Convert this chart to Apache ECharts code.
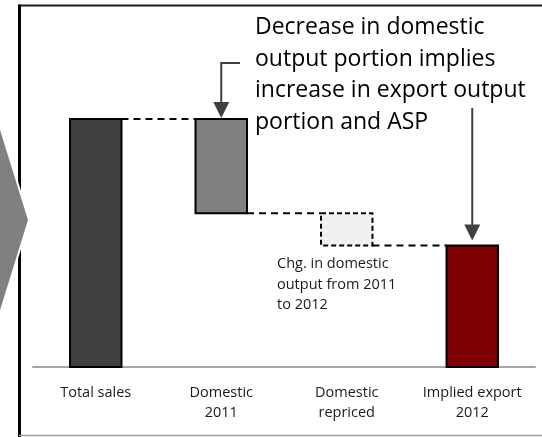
<!DOCTYPE html>
<html>
<head>
<meta charset="utf-8">
<script src="https://cdn.jsdelivr.net/npm/echarts@6/dist/echarts.min.js"></script>
<style>
  html, body { margin: 0; padding: 0; background: #fff; }
  #chart { width: 542px; height: 437px; }
</style>
</head>
<body>
<div id="chart"></div>
<script>
// Waterfall steps: Total sales minus domestic output, adjusted for repricing, leaves implied export
const categories = ['Total sales', 'Domestic\n2011', 'Domestic\nrepriced', 'Implied export\n2012'];
const stepValues = [100, -38, -13, 49];      // total, decreases, resulting total
const isTotal = [true, false, false, true];
const fillColors = ['#404040', '#808080', '#f0f0f0', '#7f0000'];
const dashedBorder = [false, false, true, false];

const headline = 'Decrease in domestic\noutput portion implies\nincrease in export output\nportion and ASP';
const note = 'Chg. in domestic\noutput from 2011\nto 2012';

// Build [index, low, high] ranges for each step
const ranges = [];
let level = 0;
stepValues.forEach((v, i) => {
  if (isTotal[i]) {
    ranges.push([i, 0, v]);
    level = v;
  } else {
    const next = level + v;
    ranges.push([i, Math.min(level, next), Math.max(level, next)]);
    level = next;
  }
});
// Connector levels: end level of each step, linking it to the next
const connectors = [];
level = 0;
stepValues.forEach((v, i) => {
  level = isTotal[i] ? v : level + v;
  if (i < stepValues.length - 1) connectors.push([i, level]);
});

const FONT = '"Open Sans", "Noto Sans", sans-serif';
const chart = echarts.init(document.getElementById('chart'));

const BAR_RATIO = 0.41;

chart.setOption({
  animation: false,
  grid: { left: 33, right: 7, top: 119, bottom: 70 },
  xAxis: {
    type: 'category',
    data: categories,
    axisLine: { lineStyle: { color: '#a6a6a6', width: 2 } },
    axisTick: { show: false },
    axisLabel: {
      color: '#1a1a1a', fontFamily: FONT, fontSize: 14.5,
      lineHeight: 20, margin: 16, interval: 0
    }
  },
  yAxis: { type: 'value', min: 0, max: 100, show: false },
  series: [
    {
      type: 'custom',
      data: ranges,
      encode: { x: 0, y: [1, 2] },
      z: 3,
      renderItem: (params, api) => {
        const i = api.value(0);
        const lo = api.coord([i, api.value(1)]);
        const hi = api.coord([i, api.value(2)]);
        const w = api.size([1, 0])[0] * BAR_RATIO;
        return {
          type: 'rect',
          shape: { x: lo[0] - w / 2, y: hi[1], width: w, height: lo[1] - hi[1] },
          style: {
            fill: fillColors[i],
            stroke: '#000',
            lineWidth: 2,
            lineDash: dashedBorder[i] ? [5, 3] : null
          }
        };
      }
    },
    {
      type: 'custom',
      data: connectors,
      encode: { x: 0, y: 1 },
      z: 2,
      renderItem: (params, api) => {
        const i = api.value(0);
        const a = api.coord([i, api.value(1)]);
        const b = api.coord([i + 1, api.value(1)]);
        const w = api.size([1, 0])[0] * BAR_RATIO;
        return {
          type: 'line',
          shape: { x1: a[0] + w / 2, y1: a[1], x2: b[0] - w / 2, y2: b[1] },
          style: { stroke: '#000', lineWidth: 2, lineDash: [7, 5] }
        };
      }
    }
  ]
});

// Annotation arrows point at the top of the domestic 2011 bar and the implied export bar
const tip1 = chart.convertToPixel({ xAxisIndex: 0, yAxisIndex: 0 }, [1, ranges[1][2]]);
const tip2 = chart.convertToPixel({ xAxisIndex: 0, yAxisIndex: 0 }, [3, ranges[3][2]]);
const ARROW = '#404040';

function arrowHead(x, yTip) {
  return {
    type: 'polygon',
    shape: { points: [[x - 8, yTip - 16], [x + 8, yTip - 16], [x, yTip]] },
    style: { fill: ARROW },
    z: 10
  };
}

chart.setOption({
  graphic: [
    // frame
    { type: 'line', shape: { x1: 19, y1: 5.5, x2: 542, y2: 5.5 }, style: { stroke: '#1a1a1a', lineWidth: 2 }, z: 1 },
    { type: 'line', shape: { x1: 19.5, y1: 4.5, x2: 19.5, y2: 437 }, style: { stroke: '#000', lineWidth: 3 }, z: 1 },
    { type: 'line', shape: { x1: 19, y1: 435.5, x2: 542, y2: 435.5 }, style: { stroke: '#a0a0a0', lineWidth: 1.5 }, z: 1 },
    // chevron from the previous panel
    { type: 'polygon', shape: { points: [[-2, 120], [29, 220], [-2, 320]] },
      style: { fill: '#808080', stroke: '#fff', lineWidth: 2 }, z: 5 },
    // arrow to domestic 2011
    { type: 'polyline', shape: { points: [[240, 63], [tip1[0], 63], [tip1[0], tip1[1] - 14]] },
      style: { stroke: ARROW, lineWidth: 2, fill: null }, z: 10 },
    arrowHead(tip1[0], tip1[1] - 1),
    // arrow to implied export
    { type: 'line', shape: { x1: tip2[0], y1: 108, x2: tip2[0], y2: tip2[1] - 18 },
      style: { stroke: ARROW, lineWidth: 2 }, z: 10 },
    arrowHead(tip2[0], tip2[1] - 5),
    // headline text
    { type: 'text', left: 255, top: 12, z: 10,
      style: { text: headline, fill: '#000', font: '23px ' + FONT, lineHeight: 31.5 } },
    // note text
    { type: 'text', left: 277, top: 254, z: 10,
      style: { text: note, fill: '#1a1a1a', font: '14.5px ' + FONT, lineHeight: 20.5 } }
  ]
});
</script>
</body>
</html>
